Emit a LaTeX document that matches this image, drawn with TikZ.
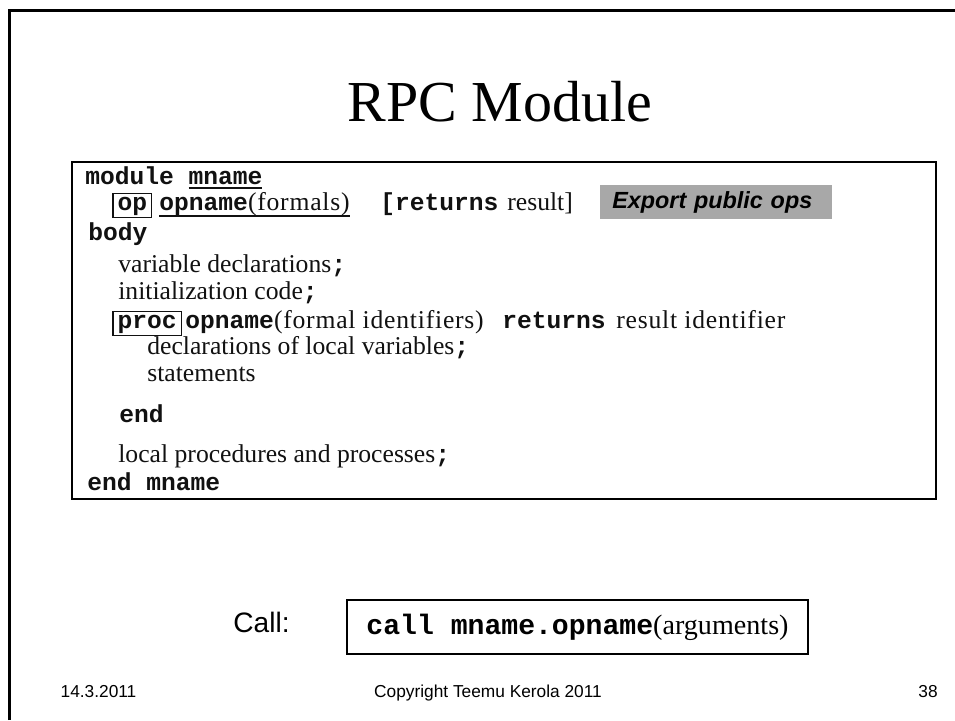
\documentclass[tikz,border=0pt]{standalone}
\usepackage{fontspec}
\setmainfont{Liberation Serif}
\setsansfont{Liberation Sans}
\setmonofont{Liberation Mono}
\usepackage{xcolor}
\usepackage{tikz}
\usetikzlibrary{positioning}
\definecolor{frame}{HTML}{000000}
\definecolor{notegray}{HTML}{A8A8A8}
\definecolor{text}{HTML}{111111}
\newcommand{\kw}[1]{{\ttfamily\bfseries\fontsize{14}{17}\selectfont #1}}
\newcommand{\kwbox}[1]{{\setlength{\fboxsep}{0.8pt}\setlength{\fboxrule}{0.8pt}%
  \fbox{\hspace{1.4pt}\rule[-2.4pt]{0pt}{10.5pt}\kw{#1}\hspace{1.4pt}}}}
\newcommand{\undl}[2]{\setbox0\hbox{#2}\rlap{\rule[-#1]{\wd0}{0.9pt}}\box0}
\newcommand{\spaced}[2][3]{{\addfontfeature{LetterSpace=#1}#2}}
\newcommand{\codefont}{\fontsize{14.6}{17}\selectfont}
\tikzset{
  slideline/.style={draw=frame, line width=1.5pt},
  codebox/.style={draw=frame, line width=1.3pt},
  codeline/.style={anchor=base west, inner sep=0pt, text=text, font=\codefont},
  notebox/.style={fill=notegray, inner xsep=0.24cm, text width=4.16cm, align=left,
    minimum height=0.64cm, anchor=north west,
    font=\sffamily\bfseries\itshape\fontsize{13.3}{15}\selectfont},
  callbox/.style={draw=frame, line width=1.2pt, minimum width=9.22cm, minimum height=1.08cm,
    font=\fontsize{16}{19}\selectfont},
  foot/.style={anchor=base, inner sep=0pt, font=\sffamily\fontsize{9.85}{12}\selectfont}
}
\begin{document}
\begin{tikzpicture}[x=0.02cm, y=-0.02cm]
  \useasboundingbox (0,0) rectangle (955,720);
  \fill[white] (0,0) rectangle (955,720);
  \draw[slideline] (9.5,720) -- (9.5,10.5) -- (955,10.5);

  \node[anchor=base, inner sep=0pt, font=\fontsize{33}{36}\selectfont] (title) at (500,121) {RPC Module};

  % module skeleton
  \draw[codebox] (72,162) rectangle (936,499);
  \node[codeline] (lmod)  at (85,184)  {\kw{module \undl{2.8pt}{mname}}};
  \node[codeline] (lop)   at (112,210) {\kwbox{op}\hspace{4pt}\undl{4pt}{\kw{opname}\spaced{(formals)}}};
  \node[codeline] (lopret) at (380,210) {\kw{[returns}};
  \node[codeline] (lopres) at (507,210) {result]};
  \node[codeline] (lbody) at (88,240)  {\kw{body}};
  \node[codeline] (lvar)  at (118,272) {variable declarations\kw{;}};
  \node[codeline] (linit) at (118,299) {initialization code\kw{;}};
  \node[codeline] (lproc) at (112,328) {\kwbox{proc}\hspace{2pt}\kw{opname}\spaced{(formal identifiers)}};
  \node[codeline] (lpret) at (502,328) {\kw{returns}};
  \node[codeline] (lpres) at (616,328) {\spaced{result identifier}};
  \node[codeline] (ldecl) at (147,354) {declarations of local variables\kw{;}};
  \node[codeline] (lstat) at (147,381) {statements};
  \node[codeline] (lend)  at (119,422) {\kw{end}};
  \node[codeline] (lloc)  at (118,462) {local procedures and processes\kw{;}};
  \node[codeline] (lendm) at (87,490)  {\kw{end mname}};

  \node[notebox] (export) at (600,185) {Export public ops};

  % call
  \node[callbox] (call) at (577.5,627) {{\ttfamily\bfseries call mname.opname}(arguments)};
  \node[anchor=base west, inner sep=0pt, font=\sffamily\fontsize{16}{19}\selectfont] (calllab) at (233,632) {Call:};

  \node[foot] (date) at (98.5,697) {14.3.2011};
  \node[foot] (copy) at (488,697) {Copyright Teemu Kerola 2011};
  \node[foot, anchor=base east] (page) at (938,697) {38};
\end{tikzpicture}
\end{document}
